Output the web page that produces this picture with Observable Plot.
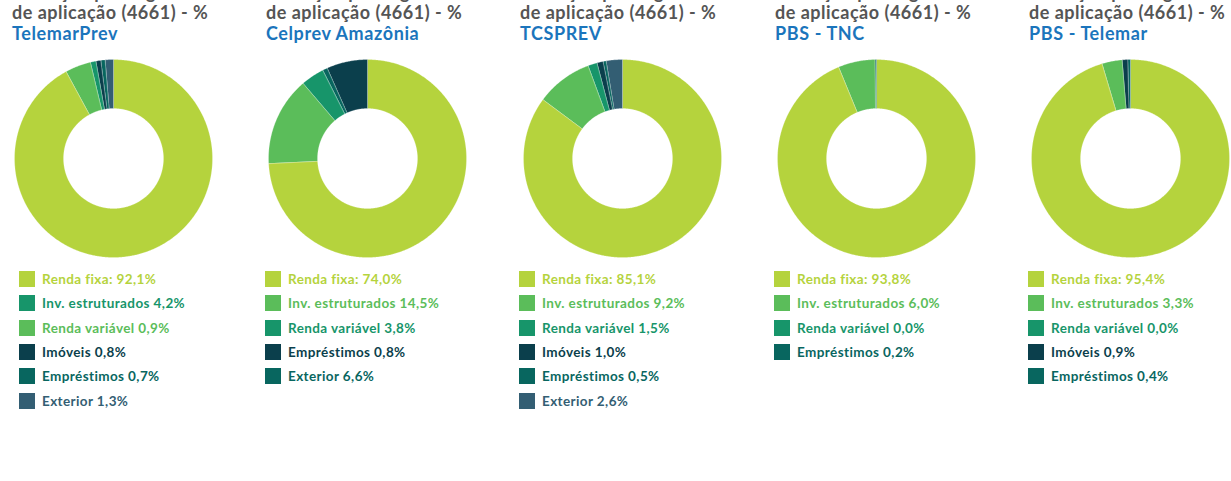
<!DOCTYPE html>
<html><head><meta charset="utf-8">
<script src="https://cdn.jsdelivr.net/npm/d3@7"></script>
<script src="https://cdn.jsdelivr.net/npm/@observablehq/plot@0.6"></script>
<style>
html,body{margin:0;padding:0;background:#fff;}
body{width:1231px;height:481px;position:relative;overflow:hidden;font-family:Lato,"Open Sans",sans-serif;}
.t{position:absolute;white-space:nowrap;font-weight:700;}
.t0,.t1{color:#555555;font-size:18px;line-height:20.5px;letter-spacing:0.5px;}
.t2{color:#1b75bc;font-size:18px;line-height:20.5px;letter-spacing:0.6px;}
.donut{position:absolute;}
.row{position:absolute;height:16px;white-space:nowrap;font-weight:700;font-size:13.5px;line-height:16px;letter-spacing:0.4px;}
.sw{position:absolute;left:0;top:0;width:16px;height:16px;}
.lb{position:absolute;left:23px;top:0;}
</style></head><body>
<script>
// ---- data ----
const titleLine1 = "Alocação por segmento";
const titleLine2 = "de aplicação (4661) - %";
const funds = ["TelemarPrev", "Celprev Amazônia", "TCSPREV", "PBS - TNC", "PBS - Telemar"];
const categories = ["Renda fixa", "Inv. estruturados", "Renda variável", "Imóveis", "Empréstimos", "Exterior"];
const telemarPrevValues = [92.1, 4.2, 0.9, 0.8, 0.7, 1.3];
const celprevValues     = [74.0, 14.5, 3.8, null, 0.8, 6.6];
const tcsprevValues     = [85.1, 9.2, 1.5, 1.0, 0.5, 2.6];
const pbsTncValues      = [93.8, 6.0, 0.0, null, 0.2, null];
const pbsTelemarValues  = [95.4, 3.3, 0.0, 0.9, 0.4, null];
const fundValues = [telemarPrevValues, celprevValues, tcsprevValues, pbsTncValues, pbsTelemarValues];

// ---- styles ----
const C = {lg:"#b5d33d", mg:"#5bbd5a", tg:"#17956a", dk:"#0b3f4c", te:"#08665f", sl:"#335e73"};
const donutColors = [
  [C.lg, C.mg, C.tg, C.dk, C.te, C.sl],
  [C.lg, C.mg, C.tg, C.dk, C.te, C.dk],
  [C.lg, C.mg, C.tg, C.dk, C.te, C.sl],
  [C.lg, C.mg, C.tg, C.dk, C.te, C.sl],
  [C.lg, C.mg, C.tg, C.dk, C.te, C.sl]
];
const legendColors = [
  [C.lg, C.tg, C.mg, C.dk, C.te, C.sl],
  [C.lg, C.mg, C.tg, C.dk, C.dk, C.te],
  [C.lg, C.mg, C.tg, C.dk, C.te, C.sl],
  [C.lg, C.mg, C.tg, C.dk, C.te, C.sl],
  [C.lg, C.mg, C.tg, C.dk, C.te, C.sl]
];
const titleLeft  = [12, 266, 520, 775, 1029];
const legendLeft = [19, 265, 519, 774, 1028];
const donutCx    = [113, 367, 622, 876, 1130];
const donutCy = 158, svgSize = 200, innerRatio = 0.505;

const fmt = v => v.toFixed(1).replace(".", ",") + "%";

function slicePolygons(vals, colors) {
  const items = categories.map((c, i) => ({c, v: vals[i], color: colors[i]})).filter(d => d.v != null);
  const total = d3.sum(items, d => d.v);
  let acc = 0;
  const feats = [];
  for (const d of items) {
    const a0 = acc / total * 2 * Math.PI;
    acc += d.v;
    const a1 = acc / total * 2 * Math.PI;
    if (d.v <= 0) continue;
    const n = Math.max(2, Math.ceil((a1 - a0) / (Math.PI / 360)));
    const ring = [];
    for (let k = 0; k <= n; k++) { const a = a0 + (a1 - a0) * k / n; ring.push([Math.sin(a), -Math.cos(a)]); }
    for (let k = n; k >= 0; k--) { const a = a0 + (a1 - a0) * k / n; ring.push([innerRatio * Math.sin(a), -innerRatio * Math.cos(a)]); }
    ring.push(ring[0]);
    feats.push({type: "Feature", properties: {category: d.c, color: d.color}, geometry: {type: "Polygon", coordinates: [ring]}});
  }
  return feats;
}

funds.forEach((name, i) => {
  const vals = fundValues[i];
  // titles
  [[titleLine1, "t0", -18.5], [titleLine2, "t1", 2], [name, "t2", 22.5]].forEach(([txt, cls, top]) => {
    const el = document.createElement("div");
    el.className = "t " + cls;
    el.textContent = txt;
    el.style.left = titleLeft[i] + "px";
    el.style.top = top + "px";
    document.body.appendChild(el);
  });
  // donut
  const chart = Plot.plot({
    width: svgSize, height: svgSize, margin: 1,
    projection: {type: "identity", domain: {type: "MultiPoint", coordinates: [[-1, -1], [1, 1]]}},
    color: {type: "identity"},
    marks: [
      Plot.geo(slicePolygons(vals, donutColors[i]), {fill: d => d.properties.color, stroke: "#ffffff", strokeWidth: 0.4, strokeOpacity: 0.6})
    ]
  });
  const wrap = document.createElement("div");
  wrap.className = "donut";
  wrap.style.left = (donutCx[i] - svgSize / 2) + "px";
  wrap.style.top = (donutCy - svgSize / 2) + "px";
  wrap.appendChild(chart);
  document.body.appendChild(wrap);
  // legend
  let r = 0;
  categories.forEach((c, j) => {
    if (vals[j] == null) return;
    const row = document.createElement("div");
    row.className = "row";
    row.style.left = legendLeft[i] + "px";
    row.style.top = (271 + r * 24.35) + "px";
    const col = legendColors[i][j];
    const sw = document.createElement("div"); sw.className = "sw"; sw.style.background = col;
    const lb = document.createElement("div"); lb.className = "lb"; lb.style.color = col;
    lb.textContent = (j === 0 ? c + ": " : c + " ") + fmt(vals[j]);
    row.appendChild(sw); row.appendChild(lb);
    document.body.appendChild(row);
    r++;
  });
});
</script>
</body></html>
